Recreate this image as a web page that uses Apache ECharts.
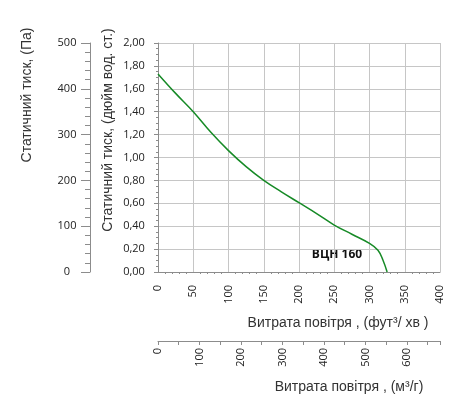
<!DOCTYPE html>
<html>
<head>
<meta charset="utf-8">
<script src="https://cdn.jsdelivr.net/npm/echarts@6/dist/echarts.min.js"></script>
<style>
html, body { margin: 0; padding: 0; background: #fff; }
#chart { width: 450px; height: 415px; }
</style>
</head>
<body>
<div id="chart"></div>
<script>
// airflow, cfm (ft3/min)
var flowCfm = [0, 25, 50, 75, 100, 125, 150, 175, 200, 225, 250, 275, 300, 312, 319, 325];
// static pressure, inch w.c.
var pressureInch = [1.73, 1.56, 1.40, 1.22, 1.06, 0.92, 0.80, 0.70, 0.605, 0.51, 0.41, 0.33, 0.25, 0.19, 0.105, 0];

var cfmMax = 400, cfmStep = 50;
var inchMax = 2, inchStep = 0.2;
var paMax = 500, paStep = 100;
var m3hPerCfm = 1.699, m3hStep = 100;

var curveName = 'ВЦН 160';
var paTitle = 'Статичний тиск, (Па)';
var inchTitle = 'Статичний тиск, (дюйм вод. ст.)';
var cfmTitle = 'Витрата повітря , (фут³/ хв )';
var m3hTitle = 'Витрата повітря , (м³/г)';

var tickFont = { fontFamily: 'Open Sans', fontSize: 11, color: '#222' };
var titleFont = '14px "Liberation Sans"';
var axisGray = '#8c8c8c';
var gridGray = '#c6c6c6';

var points = flowCfm.map(function (x, i) { return [x, pressureInch[i]]; });

function commaNum(v) {
	return v.toFixed(2).replace('.', ',');
}

var chart = echarts.init(document.getElementById('chart'));
chart.setOption({
	animation: false,
	grid: { left: 158, top: 43, width: 282, height: 229 },
	xAxis: [
		{
			type: 'value', min: 0, max: cfmMax, interval: cfmStep,
			axisLine: { onZero: false, lineStyle: { color: axisGray } },
			axisTick: { show: false },
			minorTick: { show: true, splitNumber: 5, length: 2, lineStyle: { color: axisGray } },
			splitLine: { show: true, lineStyle: { color: gridGray } },
			axisLabel: Object.assign({ rotate: 90, margin: 13 }, tickFont)
		},
		{
			type: 'value', min: 0, max: cfmMax * m3hPerCfm, interval: m3hStep,
			position: 'bottom', offset: 69,
			axisLine: { show: true, onZero: false, lineStyle: { color: axisGray } },
			axisTick: { show: true, length: 4, lineStyle: { color: axisGray } },
			minorTick: { show: true, splitNumber: 2, length: 4, lineStyle: { color: axisGray } },
			splitLine: { show: false },
			axisLabel: Object.assign({ rotate: 90, margin: 7, showMaxLabel: false }, tickFont)
		}
	],
	yAxis: [
		{
			type: 'value', min: 0, max: inchMax, interval: inchStep,
			position: 'left',
			axisLine: { show: true, onZero: false, lineStyle: { color: axisGray } },
			axisTick: { show: true, length: 4, lineStyle: { color: axisGray } },
			minorTick: { show: true, splitNumber: 4, length: 2, lineStyle: { color: axisGray } },
			splitLine: { show: true, lineStyle: { color: gridGray } },
			axisLabel: Object.assign({ margin: 24, align: 'center', formatter: commaNum }, tickFont)
		},
		{
			type: 'value', min: 0, max: paMax, interval: paStep,
			position: 'left', offset: 68,
			axisLine: { show: true, onZero: false, lineStyle: { color: axisGray } },
			axisTick: { show: true, length: 9, lineStyle: { color: axisGray } },
			minorTick: { show: true, splitNumber: 5, length: 5, lineStyle: { color: axisGray } },
			splitLine: { show: false },
			axisLabel: Object.assign({ margin: 23, align: 'center' }, tickFont)
		}
	],
	series: [
		{
			name: curveName,
			type: 'line',
			xAxisIndex: 0,
			yAxisIndex: 0,
			data: points,
			showSymbol: false,
			smooth: 0.4,
			lineStyle: { color: '#168a26', width: 1.5 }
		}
	],
	graphic: [
		{
			type: 'text', x: 27, y: 95, rotation: Math.PI / 2,
			style: { text: paTitle, font: titleFont, fill: '#333', textAlign: 'center', textVerticalAlign: 'middle' }
		},
		{
			type: 'text', x: 108, y: 130, rotation: Math.PI / 2,
			style: { text: inchTitle, font: titleFont, fill: '#333', textAlign: 'center', textVerticalAlign: 'middle' }
		},
		{
			type: 'text', x: 338, y: 323,
			style: { text: cfmTitle, font: titleFont, fill: '#333', textAlign: 'center', textVerticalAlign: 'middle' }
		},
		{
			type: 'text', x: 349, y: 387,
			style: { text: m3hTitle, font: titleFont, fill: '#333', textAlign: 'center', textVerticalAlign: 'middle' }
		},
		{
			type: 'text', x: 337, y: 255,
			style: { text: curveName, font: 'bold 12px "Open Sans"', fill: '#111', textAlign: 'center', textVerticalAlign: 'middle' }
		}
	]
});
</script>
</body>
</html>
